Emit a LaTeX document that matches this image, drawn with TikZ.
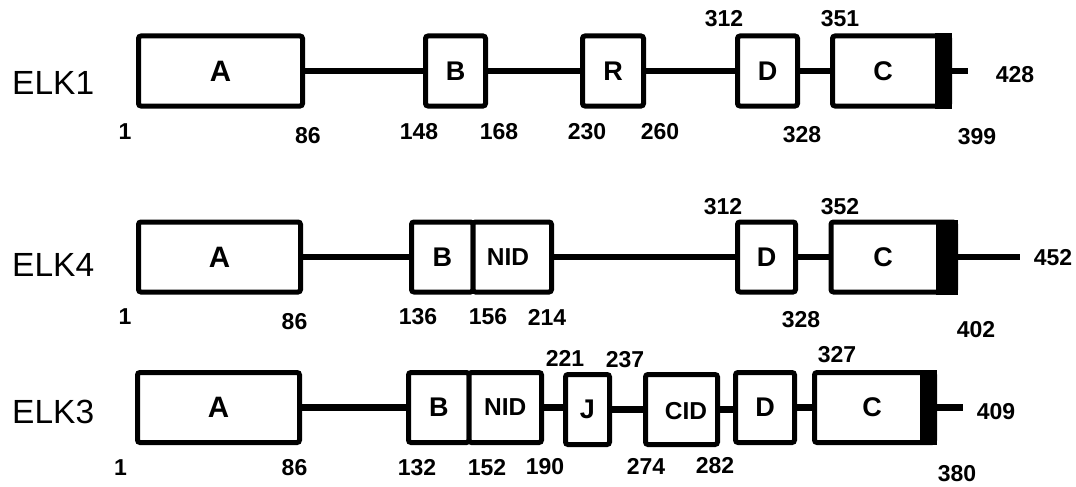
\documentclass[tikz,border=0pt]{standalone}
\usepackage{fontspec}
\setmainfont{Liberation Sans}
\begin{document}
\begin{tikzpicture}[x=1pt,y=-1pt,
  box/.style={draw=black, fill=white, line width=5pt, rounded corners=2.5pt, inner sep=0pt,
    minimum height=70pt, font=\fontsize{27}{27}\selectfont\bfseries},
  bigbox/.style={box, font=\fontsize{29.5}{29.5}\selectfont\bfseries},
  lbl/.style={inner sep=0pt, font=\fontsize{27}{27}\selectfont\bfseries},
  lbls/.style={inner sep=0pt, font=\fontsize{24.5}{24.5}\selectfont\bfseries},
  conn/.style={line width=6.5pt},
  num/.style={inner sep=0pt, font=\fontsize{23}{23}\selectfont\bfseries},
  elk/.style={inner sep=0pt, anchor=west, font=\fontsize{33.5}{33.5}\selectfont}]
\useasboundingbox (0,0) rectangle (1076,487);

% ---------------- ELK1 ----------------
\node[elk] (L1) at (12,83) {ELK1};
\node[bigbox, minimum width=164pt] (A1) at (220.5,71) {A};
\node[box, minimum width=60pt] (B1) at (455.5,71) {B};
\node[box, minimum width=61pt] (R1) at (613,71) {R};
\node[box, minimum width=60pt] (D1) at (767.5,71) {D};
\node[box, minimum width=117pt] (C1) at (891,71) {};
\fill ([xshift=-17.5pt]C1.north east) rectangle (C1.south east);
\node[lbl] (C1l) at (883,71) {C};
\coordinate (E1) at (968,71);
\draw[conn] (A1.east) -- (B1.west);
\draw[conn] (B1.east) -- (R1.west);
\draw[conn] (R1.east) -- (D1.west);
\draw[conn] (D1.east) -- (C1.west);
\draw[conn] (C1.east) -- (E1);
\node[num] (n1a) at (125,132) {1};
\node[num] (n1b) at (308,136) {86};
\node[num] (n1c) at (419,132) {148};
\node[num] (n1d) at (499,132) {168};
\node[num] (n1e) at (587,132) {230};
\node[num] (n1f) at (660,132) {260};
\node[num] (n1g) at (802,135) {328};
\node[num] (n1h) at (977,137) {399};
\node[num] (n1i) at (724,18.5) {312};
\node[num] (n1j) at (840,18.5) {351};
\node[num] (n1k) at (1015,75) {428};

% ---------------- ELK4 ----------------
\node[elk] (L4) at (12,265) {ELK4};
\node[bigbox, minimum width=162pt] (A4) at (219.5,257) {A};
\node[box, minimum width=61.5pt] (B4) at (442.25,257) {B};
\node[box, minimum width=78.5pt] (NID4) at (512.25,257) {};
\node[lbls] (NID4l) at (508,257) {NID};
\node[box, minimum width=58pt] (D4) at (766.5,257) {D};
\node[box, minimum width=124.5pt] (C4) at (893.25,257) {};
\fill ([xshift=-22.5pt]C4.north east) rectangle (C4.south east);
\node[lbl] (C4l) at (883,257) {C};
\coordinate (E4) at (1020,257);
\draw[conn] (A4.east) -- (B4.west);
\draw[conn] (NID4.east) -- (D4.west);
\draw[conn] (D4.east) -- (C4.west);
\draw[conn] (C4.east) -- (E4);
\node[num] (n4a) at (125,317) {1};
\node[num] (n4b) at (294.5,322) {86};
\node[num] (n4c) at (418,317) {136};
\node[num] (n4d) at (488,317) {156};
\node[num] (n4e) at (547,317) {214};
\node[num] (n4f) at (801,320) {328};
\node[num] (n4g) at (976,330) {402};
\node[num] (n4h) at (723,207) {312};
\node[num] (n4i) at (840,207) {352};
\node[num] (n4j) at (1053,258) {452};

% ---------------- ELK3 ----------------
\node[elk] (L3) at (12,412) {ELK3};
\node[bigbox, minimum width=162pt] (A3) at (218.5,407.5) {A};
\node[box, minimum width=60.5pt] (B3) at (438.75,407.5) {B};
\node[box, minimum width=72.5pt, font=\fontsize{24.5}{24.5}\selectfont\bfseries] (NID3) at (505.25,407.5) {NID};
\node[box, minimum width=44pt] (J3) at (587.5,409.5) {J};
\node[box, minimum width=72pt] (CID3) at (681.5,409.5) {};
\node[lbls] (CID3l) at (686,411) {CID};
\node[box, minimum width=59pt] (D3) at (765,407.5) {D};
\node[box, minimum width=120pt] (C3) at (874.5,407.5) {};
\fill ([xshift=-17.5pt]C3.north east) rectangle (C3.south east);
\node[lbl] (C3l) at (872,407.5) {C};
\coordinate (E3) at (963,407.5);
\draw[conn] (A3.east) -- (B3.west);
\draw[conn] (NID3.east) -- (NID3.east -| J3.west);
\draw[conn] (J3.east) -- (J3.east -| CID3.west);
\draw[conn] (CID3.east) -- (CID3.east -| D3.west);
\draw[conn] (D3.east) -- (C3.west);
\draw[conn] (C3.east) -- (E3);
\node[num] (n3a) at (120.5,468) {1};
\node[num] (n3b) at (294.5,468) {86};
\node[num] (n3c) at (417,468) {132};
\node[num] (n3d) at (487,468) {152};
\node[num] (n3e) at (545,467) {190};
\node[num] (n3f) at (646,466) {274};
\node[num] (n3g) at (715,466) {282};
\node[num] (n3h) at (957,474) {380};
\node[num] (n3i) at (565,358) {221};
\node[num] (n3j) at (625,360) {237};
\node[num] (n3k) at (837,355) {327};
\node[num] (n3l) at (996,412) {409};
\end{tikzpicture}
\end{document}
